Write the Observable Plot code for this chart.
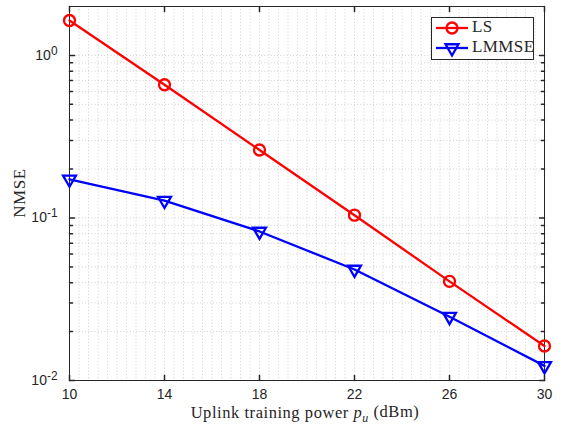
<!DOCTYPE html>
<html><head><meta charset="utf-8">
<script src="https://cdn.jsdelivr.net/npm/d3@7"></script>
<script src="https://cdn.jsdelivr.net/npm/@observablehq/plot@0.6"></script>
<style>body{margin:0;background:#fff}#chart{position:relative;width:566px;height:426px}</style>
</head><body><div id="chart"></div>
<script>
const power = [10, 14, 18, 22, 26, 30];
const lsNmse = [1.64, 0.66, 0.262, 0.104, 0.0407, 0.0163];
const lmmseNmse = [0.173, 0.128, 0.0826, 0.0482, 0.0247, 0.0123];
const seriesNames = ["LS", "LMMSE"];
const seriesColors = ["#ff0000", "#0000ff"];
const xTicks = [10, 14, 18, 22, 26, 30];
const yTicks = [0.01, 0.1, 1];
const yTickExps = ["-2", "-1", "0"];
const yDomain = [0.01, 2];
const xDomain = [10, 30];

const rows = [];
power.forEach((p, i) => rows.push({p, v: lsNmse[i], s: "LS"}));
power.forEach((p, i) => rows.push({p, v: lmmseNmse[i], s: "LMMSE"}));

const yMinor = [];
for (const k of [-2, -1, 0]) for (let m = 2; m <= 9; m++) { const v = m * Math.pow(10, k); if (v < yDomain[1]) yMinor.push(v); }
const xGrid = d3.range(0, 51).map(i => 10 + i * 0.4);

const tickShape = {draw(ctx, l) { ctx.moveTo(0, 0); ctx.lineTo(0, -l); }};
const axisColor = "#262626";
const gridStyle = {stroke: "#c4c4c4", strokeWidth: 0.8, strokeDasharray: "1,2.2"};
const lw = 2.3;

const plot = Plot.plot({
  width: 566, height: 426,
  marginLeft: 69, marginRight: 22, marginTop: 6, marginBottom: 46,
  style: {fontFamily: "'Liberation Sans', Arial, sans-serif", fontSize: "14px", color: axisColor, background: "#fff"},
  x: {domain: xDomain, label: null},
  y: {type: "log", domain: yDomain, label: null},
  color: {domain: seriesNames, range: seriesColors},
  marks: [
    Plot.ruleX(xGrid, {...gridStyle}),
    Plot.ruleY([...yMinor, ...yTicks], {...gridStyle}),
    Plot.axisX({ticks: xTicks, tickSize: 0, tickPadding: 9, tickFormat: d => d, label: null}),
    Plot.axisY({ticks: yTicks, tickSize: 0, tickPadding: 12, tickFormat: d => "10", label: null}),
    Plot.vector(xTicks, {x: d => d, y: yDomain[0], length: 5, rotate: 0, anchor: "start", shape: tickShape, stroke: axisColor}),
    Plot.vector(xTicks, {x: d => d, y: yDomain[1], length: 5, rotate: 180, anchor: "start", shape: tickShape, stroke: axisColor}),
    Plot.vector(yTicks, {x: xDomain[0], y: d => d, length: 5, rotate: 90, anchor: "start", shape: tickShape, stroke: axisColor}),
    Plot.vector(yTicks, {x: xDomain[1], y: d => d, length: 5, rotate: 270, anchor: "start", shape: tickShape, stroke: axisColor}),
    Plot.vector(yMinor, {x: xDomain[0], y: d => d, length: 3, rotate: 90, anchor: "start", shape: tickShape, stroke: axisColor}),
    Plot.vector(yMinor, {x: xDomain[1], y: d => d, length: 3, rotate: 270, anchor: "start", shape: tickShape, stroke: axisColor}),
    Plot.frame({stroke: axisColor, strokeWidth: 1}),
    Plot.line(rows, {x: "p", y: "v", z: "s", stroke: "s", strokeWidth: lw}),
    Plot.dot(rows.filter(d => d.s === "LS"), {x: "p", y: "v", r: 5.5, stroke: "s", strokeWidth: lw, fill: "none"}),
    Plot.dot(rows.filter(d => d.s === "LMMSE"), {x: "p", y: "v", symbol: "triangle", rotate: 180, r: 4.8, stroke: "s", strokeWidth: lw, fill: "none"})
  ]
});
document.getElementById("chart").appendChild(plot);

const svg = d3.select(plot);
svg.selectAll('g[aria-label="x-axis tick label"] text').style("font-size", "14px");
// y tick labels with superscript exponents
svg.selectAll('g[aria-label="y-axis tick label"] text').each(function(d, i) {
  const t = d3.select(this);
  t.style("font-size", "14px").text("10");
  t.append("tspan").attr("dy", "-0.45em").style("font-size", "0.85em").text(yTickExps[i]);
});

const serif = "'Liberation Serif', 'Times New Roman', serif";
// y label
svg.append("text").attr("transform", "translate(21,193) rotate(-90)")
  .attr("text-anchor", "middle").attr("dominant-baseline", "middle").attr("letter-spacing", 0.6)
  .attr("font-family", serif).style("font-size", "17px").attr("fill", axisColor).text("NMSE");
// x label
const xl = svg.append("text").attr("x", 305).attr("y", 418).attr("text-anchor", "middle").attr("letter-spacing", 0.55)
  .attr("font-family", serif).style("font-size", "16.5px").attr("fill", axisColor);
xl.append("tspan").text("Uplink training power ");
xl.append("tspan").attr("font-style", "italic").text("p");
xl.append("tspan").attr("font-style", "italic").style("font-size", "0.72em").attr("dy", "0.3em").text("u");
xl.append("tspan").attr("dy", "-0.3em").text(" (dBm)");

// legend
const lg = svg.append("g");
lg.append("rect").attr("x", 431.5).attr("y", 17.5).attr("width", 102).attr("height", 42)
  .attr("fill", "#fff").attr("stroke", axisColor).attr("stroke-width", 1);
seriesNames.forEach((name, i) => {
  const y = 28 + i * 20;
  const c = seriesColors[i];
  lg.append("line").attr("x1", 436).attr("x2", 468).attr("y1", y).attr("y2", y).attr("stroke", c).attr("stroke-width", lw);
  if (i === 0) lg.append("circle").attr("cx", 452).attr("cy", y).attr("r", 5.5).attr("fill", "none").attr("stroke", c).attr("stroke-width", lw);
  else lg.append("path").attr("d", d3.symbol(d3.symbolTriangle, 4.8 * 4.8 * Math.PI)()).attr("transform", `translate(452,${y}) rotate(180)`).attr("fill", "none").attr("stroke", c).attr("stroke-width", lw);
  lg.append("text").attr("x", 472).attr("y", y).attr("text-anchor", "start").attr("dominant-baseline", "middle").attr("letter-spacing", 0.4)
    .attr("font-family", serif).style("font-size", "17px").attr("fill", axisColor).text(name);
});
</script>
</body></html>
